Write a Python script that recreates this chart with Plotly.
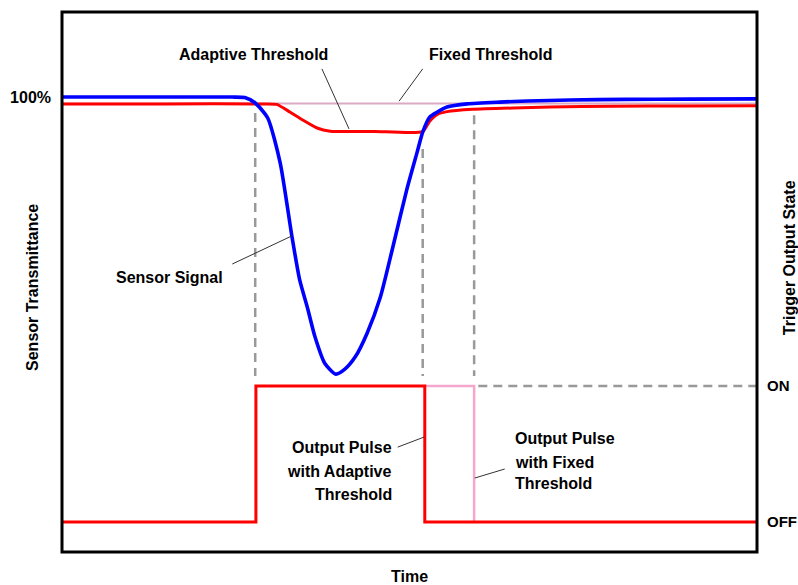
import plotly.graph_objects as go

# ---- data (time in arbitrary units 0..100) ----
signal_t = [0, 13.0, 24.5, 26.3, 27.8, 29.6, 31.4, 33.1, 34.2, 35.3, 36.4, 37.8, 39.4, 40.7, 42.2,
            43.9, 45.8, 47.6, 49.6, 51.1, 51.9, 52.9, 54.0, 55.4, 58.3, 63.0, 67.0, 73.0, 81.0, 90.0, 100]
signal_v = [100, 100, 100, 99.9, 98.7, 95.4, 85.5, 69.2, 59.8, 53.8, 47.3, 41.5, 39.1, 40.2, 42.9,
            48.1, 56.0, 67.0, 79.6, 87.9, 92.3, 95.6, 96.7, 97.8, 98.5, 98.9, 99.15, 99.35, 99.5, 99.55, 99.6]

adaptive_t = [0, 15.0, 29.0, 30.9, 32.8, 34.7, 36.7, 38.6, 45.0, 51.9, 52.9, 54.0, 55.4, 59.1,
              64.9, 70.2, 79.3, 90.0, 100]
adaptive_v = [98.5, 98.5, 98.5, 98.4, 96.7, 94.9, 93.2, 92.5, 92.45, 92.4, 94.7, 96.2, 96.8, 97.3,
              97.6, 97.8, 98.0, 98.05, 98.1]

fixed_t = [0, 100]
fixed_v = [98.6, 98.6]

# output pulses (0 = OFF, 1 = ON)
pulse_adaptive_t = [0, 27.9, 27.9, 52.2, 52.2, 100]
pulse_adaptive_v = [0, 0, 1, 1, 0, 0]
pulse_fixed_t = [52.2, 59.3, 59.3]
pulse_fixed_v = [1, 1, 0]

# threshold crossing guide lines
cross_t = [27.8, 51.9, 59.3]
cross_top_v = [96.5, 88.6, 96.0]
cross_bottom_v = 38.7
on_guide_t = [59.9, 100]

# tick labels
left_tick_vals = [100]
left_tick_text = ["100%"]
right_tick_vals = [0, 1]
right_tick_text = ["OFF", "ON"]

# callout leader lines: (t0, v0, t1, v1, axis)
leaders = [
    (37.4, 106.2, 41.3, 93.0, "y"),
    (51.9, 106.2, 48.5, 99.1, "y"),
    (24.5, 63.3, 33.1, 69.5, "y"),
    (48.3, 0.551, 52.1, 0.625, "y2"),
    (59.4, 0.324, 63.7, 0.390, "y2"),
]

# multi-line callouts: lines and their vertical positions (output-state axis)
adaptive_pulse_lines = ["Output Pulse", "with Adaptive", "Threshold"]
adaptive_pulse_y = [0.545, 0.375, 0.205]
fixed_pulse_lines = ["Output Pulse", "with Fixed", "Threshold"]
fixed_pulse_y = [0.615, 0.440, 0.280]

FONT = "Liberation Sans, Arial, sans-serif"
RED = "#ff0000"
BLUE = "#0000ff"
PINK = "#f4a6cc"
FIXPINK = "#dcaac4"
GREY = "#999999"

fig = go.Figure()

# dashed guides
for t, top in zip(cross_t, cross_top_v):
    fig.add_trace(go.Scatter(x=[t, t], y=[top, cross_bottom_v], mode="lines",
                             line=dict(color=GREY, width=2.5, dash="9px,6px"),
                             hoverinfo="skip"))
fig.add_trace(go.Scatter(x=on_guide_t, y=[1, 1], yaxis="y2", mode="lines",
                         line=dict(color=GREY, width=2.5, dash="9px,6px"), hoverinfo="skip"))

# fixed threshold
fig.add_trace(go.Scatter(x=fixed_t, y=fixed_v, mode="lines",
                         line=dict(color=FIXPINK, width=2)))
# adaptive threshold
fig.add_trace(go.Scatter(x=adaptive_t, y=adaptive_v, mode="lines",
                         line=dict(color=RED, width=3, shape="spline", smoothing=0.5)))
# sensor signal
fig.add_trace(go.Scatter(x=signal_t, y=signal_v, mode="lines",
                         line=dict(color=BLUE, width=3.6, shape="spline", smoothing=0.6)))

# pulses
fig.add_trace(go.Scatter(x=pulse_fixed_t, y=pulse_fixed_v, yaxis="y2", mode="lines",
                         line=dict(color=PINK, width=2.5)))
fig.add_trace(go.Scatter(x=pulse_adaptive_t, y=pulse_adaptive_v, yaxis="y2", mode="lines",
                         line=dict(color=RED, width=3)))

shapes = [dict(type="rect", xref="paper", yref="paper", x0=0, y0=0, x1=1, y1=1,
               line=dict(color="black", width=3))]
for t0, v0, t1, v1, ax in leaders:
    shapes.append(dict(type="line", xref="x", yref=ax, x0=t0, y0=v0, x1=t1, y1=v1,
                       line=dict(color="#333333", width=1)))

tf = dict(family=FONT, size=16, color="black", weight="bold")
annotations = [
    dict(text="Adaptive Threshold", x=27.6, y=109.3, xref="x", yref="y", showarrow=False, font=tf),
    dict(text="Fixed Threshold", x=61.7, y=109.3, xref="x", yref="y", showarrow=False, font=tf),
    dict(text="Sensor Signal", x=15.4, y=60.4, xref="x", yref="y", showarrow=False, font=tf),
    dict(text="Sensor Transmittance", x=-0.0417, y=0.489, xref="paper", yref="paper",
         xanchor="center", yanchor="middle", textangle=-90, showarrow=False, font=tf),
    dict(text="Trigger Output State", x=1.046, y=0.546, xref="paper", yref="paper",
         xanchor="center", yanchor="middle", textangle=-90, showarrow=False, font=tf),
    dict(text="Time", x=0.5, y=-0.046, xref="paper", yref="paper",
         xanchor="center", yanchor="middle", showarrow=False, font=tf),
]
for line, yv in zip(adaptive_pulse_lines, adaptive_pulse_y):
    annotations.append(dict(text=line, x=47.8, y=yv, xref="x", yref="y2", xanchor="right",
                            yanchor="middle", showarrow=False, font=tf))
for line, yv in zip(fixed_pulse_lines, fixed_pulse_y):
    annotations.append(dict(text=line, x=64.9, y=yv, xref="x", yref="y2", xanchor="left",
                            yanchor="middle", showarrow=False, font=tf))

fig.update_layout(
    width=798, height=585,
    margin=dict(l=62, r=41, t=12, b=33, autoexpand=False),
    paper_bgcolor="white", plot_bgcolor="white",
    showlegend=False,
    font=dict(family=FONT, size=16, color="black", weight="bold"),
    xaxis=dict(range=[0, 100], showgrid=False, zeroline=False, showticklabels=False,
               showline=False, ticks="", automargin=False),
    yaxis=dict(range=[0, 118.7], showgrid=False, zeroline=False, tickvals=left_tick_vals,
               ticktext=left_tick_text, ticks="", ticklabelstandoff=10, automargin=False,
               tickfont=dict(family=FONT, size=16, color="black", weight="bold")),
    yaxis2=dict(range=[-0.22, 3.75], overlaying="y", side="right", showgrid=False,
                zeroline=False, tickvals=right_tick_vals, ticktext=right_tick_text, ticks="",
                ticklabelstandoff=9, automargin=False,
                tickfont=dict(family=FONT, size=15, color="black", weight="bold")),
    shapes=shapes,
    annotations=annotations,
)

fig.write_html("out.html", config={"displayModeBar": False},
               post_script="document.body.style.margin='0';document.body.style.overflow='hidden';")
